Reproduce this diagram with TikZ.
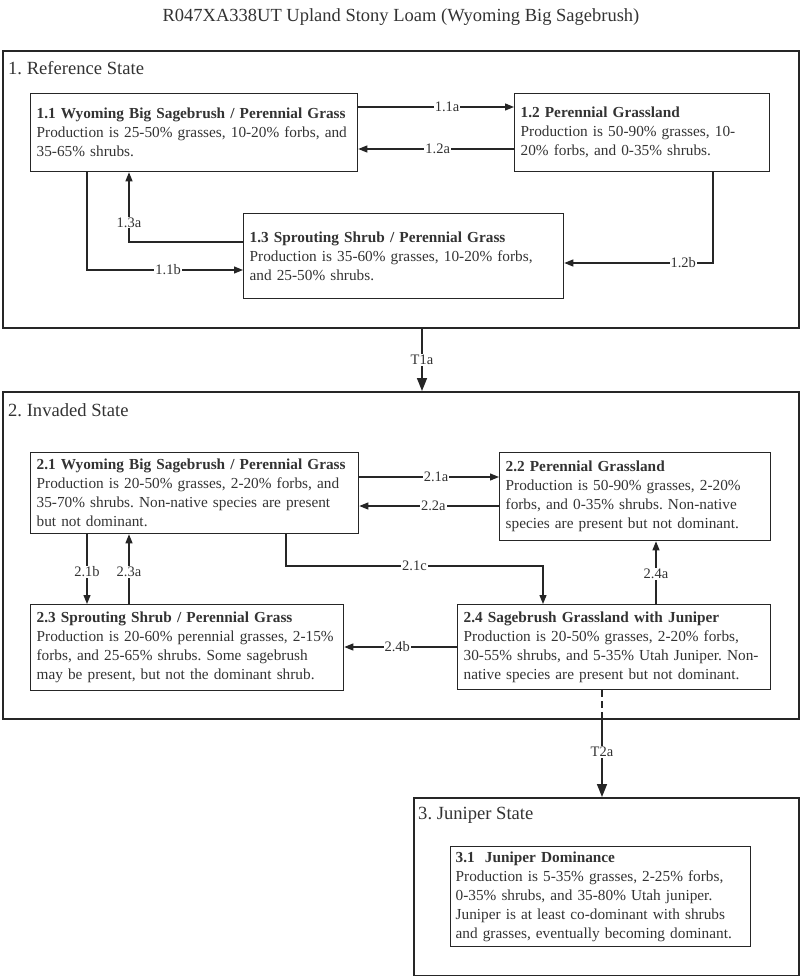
\documentclass[tikz,border=0pt]{standalone}
\usepackage{fontspec}
\setmainfont{Liberation Serif}
\usetikzlibrary{arrows.meta}
\definecolor{txt}{HTML}{333333}
\frenchspacing
\tikzset{
  statebox/.style={draw=black!85, line width=1.8pt, anchor=north west, inner sep=0pt},
  sub/.style={draw=black!85, line width=1.3pt, anchor=north west, align=left, inner xsep=6pt, inner ysep=0pt, text=txt, font=\fontsize{15.3}{19}\selectfont},
  stlabel/.style={anchor=west, text=txt, font=\fontsize{18.6}{21}\selectfont, inner sep=0pt},
  arr/.style={line width=1.2pt, draw=black!85, -{Triangle[length=9pt,width=7pt]}},
  bigarr/.style={line width=1.6pt, draw=black!85, -{Triangle[length=13pt,width=10pt]}},
  lbl/.style={fill=white, inner xsep=1pt, inner ysep=1pt, text=txt, font=\fontsize{14.5}{16}\selectfont},
}
\begin{document}
\begin{tikzpicture}[x=1pt,y=-1pt]
\useasboundingbox (0,0) rectangle (800,976);
\node[text=txt, font=\fontsize{18.5}{21}\selectfont] (title) at (401,17) {R047XA338UT Upland Stony Loam (Wyoming Big Sagebrush)};

% state boxes
\node[statebox, minimum width=796pt, minimum height=277pt] (s1) at (2,50) {};
\node[statebox, minimum width=796pt, minimum height=327pt] (s2) at (2,391) {};
\node[statebox, minimum width=385pt, minimum height=178pt] (s3) at (413,797) {};
\node[stlabel] (l1) at (8,68) {1. Reference State};
\node[stlabel] (l2) at (8,410) {2. Invaded State};
\node[stlabel] (l3) at (418,815) {3. Juniper State};

% community boxes
\node[sub, text width=315pt, minimum height=78pt] (n11) at (30,93) {\textbf{1.1 Wyoming Big Sagebrush / Perennial Grass}\\Production is 25-50\% grasses, 10-20\% forbs, and\\35-65\% shrubs.};
\node[sub, text width=243pt, minimum height=78pt] (n12) at (514,93) {\textbf{1.2 Perennial Grassland}\\Production is 50-90\% grasses, 10-\\20\% forbs, and 0-35\% shrubs.};
\node[sub, text width=308pt, minimum height=85pt] (n13) at (243,213) {\textbf{1.3 Sprouting Shrub / Perennial Grass}\\Production is 35-60\% grasses, 10-20\% forbs,\\and 25-50\% shrubs.};
\node[sub, text width=316pt, minimum height=81pt] (n21) at (30,452) {\textbf{2.1 Wyoming Big Sagebrush / Perennial Grass}\\Production is 20-50\% grasses, 2-20\% forbs, and\\35-70\% shrubs. Non-native species are present\\but not dominant.};
\node[sub, text width=259pt, minimum height=88pt] (n22) at (499,452) {\textbf{2.2 Perennial Grassland}\\Production is 50-90\% grasses, 2-20\%\\forbs, and 0-35\% shrubs. Non-native\\species are present but not dominant.};
\node[sub, text width=301pt, minimum height=86pt] (n23) at (30,604) {\textbf{2.3 Sprouting Shrub / Perennial Grass}\\Production is 20-60\% perennial grasses, 2-15\%\\forbs, and 25-65\% shrubs. Some sagebrush\\may be present, but not the dominant shrub.};
\node[sub, text width=301pt, minimum height=85pt] (n24) at (457,604) {\textbf{2.4 Sagebrush Grassland with Juniper}\\Production is 20-50\% grasses, 2-20\% forbs,\\30-55\% shrubs, and 5-35\% Utah Juniper. Non-\\native species are present but not dominant.};
\node[sub, text width=290pt, minimum height=100pt, inner xsep=5pt] (n31) at (450,846) {\textbf{3.1\ \ Juniper Dominance}\\Production is 5-35\% grasses, 2-25\% forbs,\\0-35\% shrubs, and 35-80\% Utah juniper.\\Juniper is at least co-dominant with shrubs\\and grasses, eventually becoming dominant.};

% reference state transitions
\draw[arr] (n11.east |- 0,107) -- node[lbl,pos=0.57]{1.1a} (n12.west |- 0,107);
\draw[arr] (n12.west |- 0,149) -- node[lbl,pos=0.49]{1.2a} (n11.east |- 0,149);
\draw[arr] (n13.west |- 0,242) -| node[lbl,pos=0.64]{1.3a} (129,0 |- n11.south);
\draw[arr] (87,0 |- n11.south) |- node[lbl,pos=0.76]{1.1b} (n13.west |- 0,270);
\draw[arr] (713,0 |- n12.south) |- node[lbl,pos=0.6]{1.2b} (n13.east |- 0,263);
\draw[bigarr] (422,0 |- s1.south) -- node[lbl]{T1a} (422,0 |- s2.north);

% invaded state transitions
\draw[arr] (n21.east |- 0,477) -- node[lbl,pos=0.55]{2.1a} (n22.west |- 0,477);
\draw[arr] (n22.west |- 0,506) -- node[lbl,pos=0.47]{2.2a} (n21.east |- 0,506);
\draw[arr] (87,0 |- n21.south) -- node[lbl,pos=0.54]{2.1b} (87,0 |- n23.north);
\draw[arr] (129,0 |- n23.north) -- node[lbl,pos=0.46]{2.3a} (129,0 |- n21.south);
\coordinate (c21c) at (543,566);
\draw[arr] (286,0 |- n21.south) |- node[lbl,pos=0.75]{2.1c} (c21c) -- (c21c |- n24.north);
\draw[arr] (656,0 |- n24.north) -- node[lbl,pos=0.48]{2.4a} (656,0 |- n22.south);
\draw[arr] (n24.west |- 0,647) -- node[lbl,pos=0.53]{2.4b} (n23.east |- 0,647);
\draw[line width=1.8pt, draw=black!85, dash pattern=on 7pt off 4pt] (602,0 |- n24.south) -- (602,0 |- s2.south);
\draw[bigarr] (602,0 |- s2.south) -- node[lbl,pos=0.42]{T2a} (602,0 |- s3.north);
\end{tikzpicture}
\end{document}
